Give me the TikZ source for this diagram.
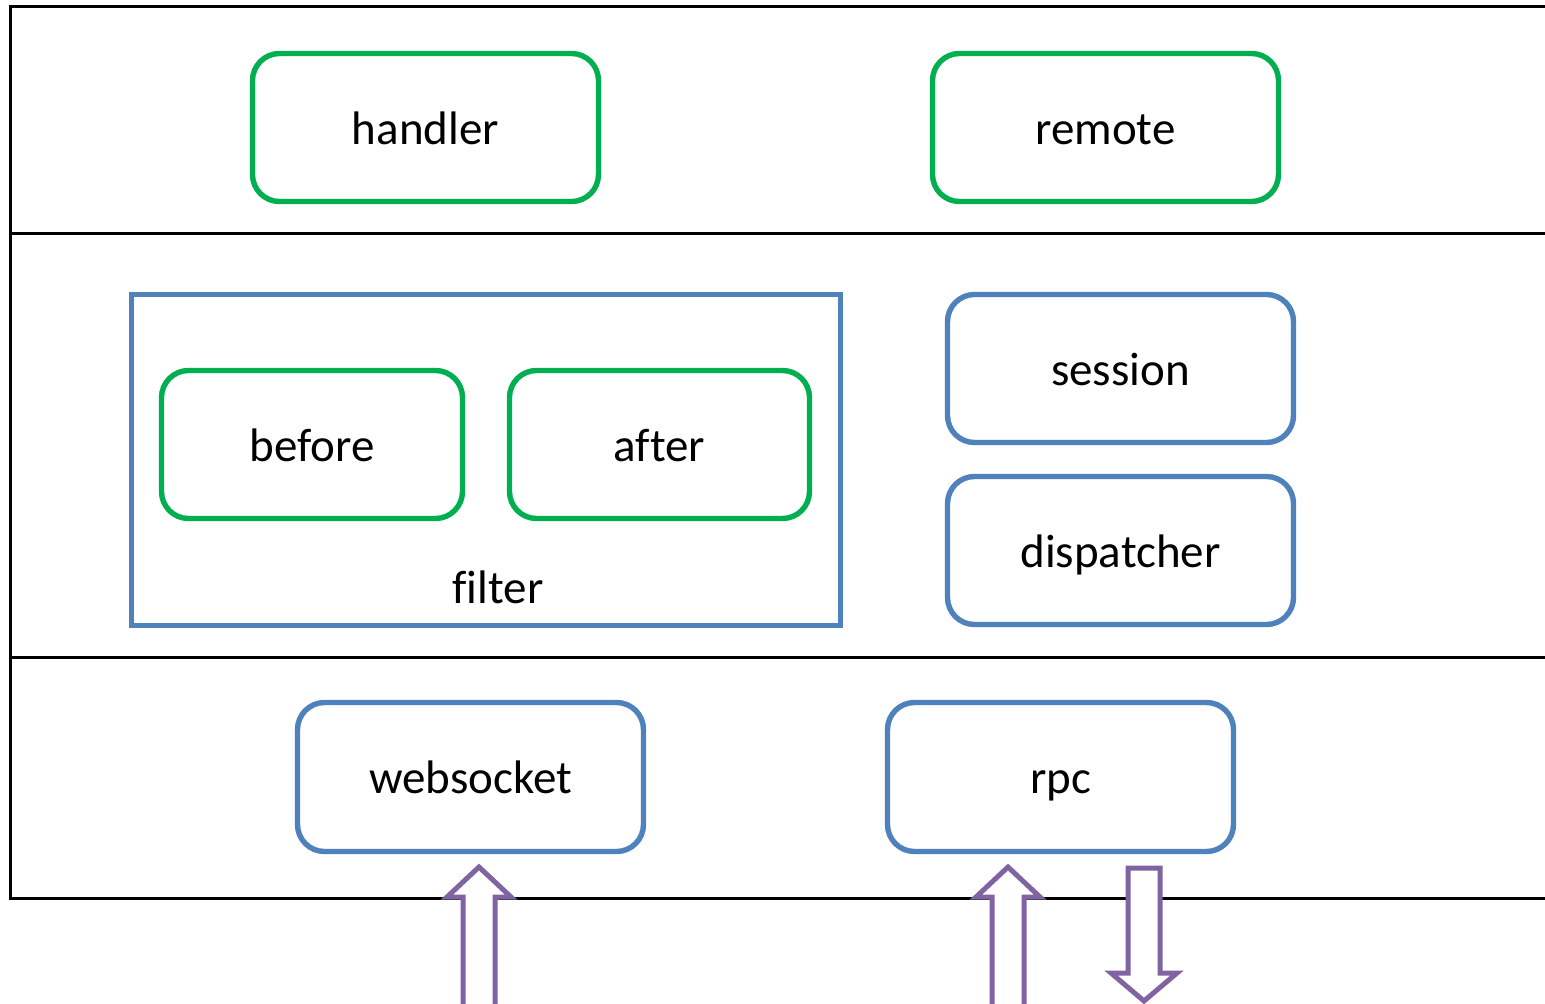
\documentclass[tikz,border=0pt]{standalone}
\usepackage{fontspec}
\setmainfont[Ligatures=NoCommon]{Carlito}
\begin{document}
\begin{tikzpicture}[x=1pt,y=-1pt,
  lbl/.style={font=\fontsize{47}{56}\selectfont, inner sep=0pt, text height=45pt, text depth=12pt},
  greenbox/.style={draw=boxgreen, line width=5.4pt, rounded corners=27pt, minimum width=346pt, minimum height=148pt, lbl},
  bluebox/.style={draw=boxblue, line width=5.4pt, rounded corners=27pt, minimum width=346pt, minimum height=148pt, lbl},
  frameline/.style={draw=black, line width=3pt},
  bigarrow/.style={draw=arrowpurple, line width=5pt, fill=white, line join=miter}
]
\definecolor{boxgreen}{HTML}{00B050}
\definecolor{boxblue}{HTML}{4F81BD}
\definecolor{arrowpurple}{HTML}{8064A2}
\useasboundingbox (0,0) rectangle (1545,1004);
\fill[white] (0,0) rectangle (1545,1004);
% frame
\coordinate (tl) at (10,6);
\coordinate (tr) at (1550,6);
\coordinate (bl) at (10,898);
\coordinate (br) at (1550,898);
\coordinate (l1) at (10,233);
\coordinate (r1) at (1550,233);
\coordinate (l2) at (10,657);
\coordinate (r2) at (1550,657);
\draw[frameline] (tr) -- (tl) -- (bl) -- (br);
\draw[frameline] (l1) -- (r1);
\draw[frameline] (l2) -- (r2);
% top layer
\node[greenbox] (handler) at (425.5,127.5) {handler};
\node[greenbox] (remote) at (1105.5,127.5) {remote};
% middle layer
\node[draw=boxblue, line width=5pt, minimum width=709pt, minimum height=331pt] (filter) at (486,460) {};
\node[lbl] (filterlabel) at (498,587) {filter};
\node[greenbox, minimum width=301pt] (before) at (312,444.5) {before};
\node[greenbox, minimum width=300pt] (after) at (659.5,444.5) {after};
\node[bluebox] (session) at (1120.5,368.5) {session};
\node[bluebox] (dispatcher) at (1120.5,550.5) {dispatcher};
% bottom layer
\node[bluebox, minimum height=149pt] (websocket) at (470.5,777) {websocket};
\node[bluebox, minimum height=149pt] (rpc) at (1060.5,777) {rpc};
% arrows
\begin{scope}
\clip (0,0) rectangle (1545,1004);
\draw[bigarrow] (463,1010) -- (463,897) -- (447,897) -- (479,867) -- (511,897) -- (495,897) -- (495,1010) -- cycle;
\draw[bigarrow] (992,1010) -- (992,897) -- (976,897) -- (1008,867) -- (1040,897) -- (1024,897) -- (1024,1010) -- cycle;
\draw[bigarrow] (1128,868) -- (1160,868) -- (1160,973) -- (1177,973) -- (1144,1001) -- (1111,973) -- (1128,973) -- cycle;
\end{scope}
\end{tikzpicture}
\end{document}
